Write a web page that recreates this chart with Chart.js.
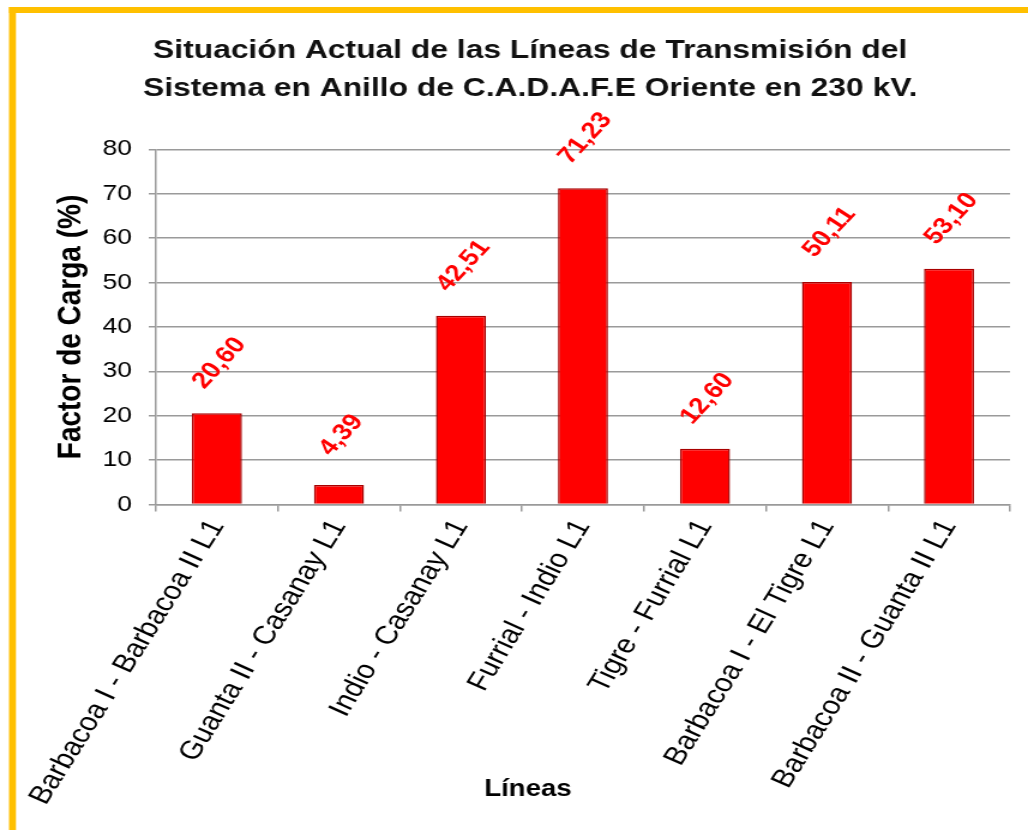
<!DOCTYPE html>
<html>
<head>
<meta charset="utf-8">
<script src="https://cdn.jsdelivr.net/npm/chart.js@4.4.1/dist/chart.umd.min.js"></script>
<style>
  html, body { margin: 0; padding: 0; background: #ffffff; overflow: hidden; }
  #wrap { position: relative; width: 1028px; height: 830px; overflow: hidden; }
  #c { position: absolute; left: 0; top: 0; transform-origin: 0 0; }
</style>
</head>
<body>
<div id="wrap"><canvas id="c" width="857" height="830"></canvas></div>
<script>
const categories = [
  'Barbacoa I - Barbacoa II L1',
  'Guanta II - Casanay L1',
  'Indio - Casanay L1',
  'Furrial - Indio L1',
  'Tigre - Furrial L1',
  'Barbacoa I - El Tigre L1',
  'Barbacoa II - Guanta II L1'
];
const loadFactor = [20.60, 4.39, 42.51, 71.23, 12.60, 50.11, 53.10];
const yTicks = [0, 10, 20, 30, 40, 50, 60, 70, 80];
const titleLines = [
  'Situación Actual de las Líneas de Transmisión del',
  'Sistema en Anillo de C.A.D.A.F.E Oriente en 230 kV.'
];
const yTitle = 'Factor de Carga (%)';
const xTitle = 'Líneas';

const FONT = '"Liberation Sans", Arial, sans-serif';
const canvas = document.getElementById('c');
canvas.style.transform = 'scaleX(' + (1028 / 857) + ')';

const frame = {
  id: 'frame',
  beforeDraw(chart) {
    const ctx = chart.ctx;
    ctx.save();
    ctx.fillStyle = '#ffffff';
    ctx.fillRect(0, 0, chart.width, chart.height);
    ctx.fillStyle = '#FFC000';
    ctx.fillRect(7.5, 7, chart.width, 6);
    ctx.fillRect(7.5, 7, 5.8, chart.height);
    ctx.restore();
  }
};

const valueLabels = {
  id: 'valueLabels',
  afterDatasetsDraw(chart) {
    const ctx = chart.ctx;
    const meta = chart.getDatasetMeta(0);
    ctx.save();
    ctx.fillStyle = '#FF0000';
    ctx.font = 'bold 23px ' + FONT;
    ctx.textAlign = 'center';
    ctx.textBaseline = 'middle';
    meta.data.forEach((bar, i) => {
      const txt = loadFactor[i].toFixed(2).replace('.', ',');
      ctx.save();
      ctx.translate(bar.x + 2, bar.y - 50);
      ctx.rotate(-52 * Math.PI / 180);
      ctx.fillText(txt, 0, 0);
      ctx.restore();
    });
    ctx.restore();
  }
};

const xAxisTitle = {
  id: 'xAxisTitle',
  afterDraw(chart) {
    const ctx = chart.ctx;
    ctx.save();
    ctx.fillStyle = '#000000';
    ctx.font = 'bold 23px ' + FONT;
    ctx.textAlign = 'center';
    ctx.textBaseline = 'middle';
    ctx.fillText(xTitle, chart.width * 0.5135, 790);
    ctx.restore();
  }
};

new Chart(canvas, {
  type: 'bar',
  data: {
    labels: categories,
    datasets: [{
      data: loadFactor,
      backgroundColor: '#FF0000',
      borderColor: '#A80000',
      borderWidth: 1.5,
      categoryPercentage: 1,
      barPercentage: 0.41
    }]
  },
  options: {
    responsive: false,
    animation: false,
    devicePixelRatio: 1,
    layout: { padding: { left: 42, right: 15, top: 14, bottom: 17 } },
    plugins: {
      legend: { display: false },
      tooltip: { enabled: false },
      title: {
        display: true,
        text: titleLines,
        color: '#111111',
        font: { family: FONT, size: 26.5, weight: 'bold', lineHeight: 1.45 },
        padding: { top: 17, bottom: 41.5 }
      }
    },
    scales: {
      x: {
        afterFit(scale) { scale.paddingLeft = 0; scale.paddingRight = 0; },
        grid: { display: true, drawOnChartArea: false, drawTicks: true, tickLength: 7, color: '#9a9a9a', lineWidth: 1.5, offset: true },
        border: { display: true, color: '#9a9a9a', width: 1.5 },
        ticks: {
          color: '#000000',
          font: { family: FONT, size: 26 },
          minRotation: 62, maxRotation: 62,
          autoSkip: false,
          padding: 3
        }
      },
      y: {
        min: 0, max: 80,
        afterBuildTicks(scale) { scale.ticks = yTicks.map(v => ({ value: v })); },
        afterFit(scale) { scale.width = 88; },
        grid: { color: '#9a9a9a', lineWidth: 1.5, tickLength: 6 },
        border: { display: true, color: '#9a9a9a', width: 1.5 },
        ticks: {
          color: '#000000',
          font: { family: FONT, size: 22 },
          padding: 14
        },
        title: {
          display: true,
          text: yTitle,
          color: '#000000',
          font: { family: FONT, size: 28, weight: 'bold' },
          padding: { top: 0, bottom: 10 }
        }
      }
    }
  },
  plugins: [frame, valueLabels, xAxisTitle]
});
</script>
</body>
</html>
